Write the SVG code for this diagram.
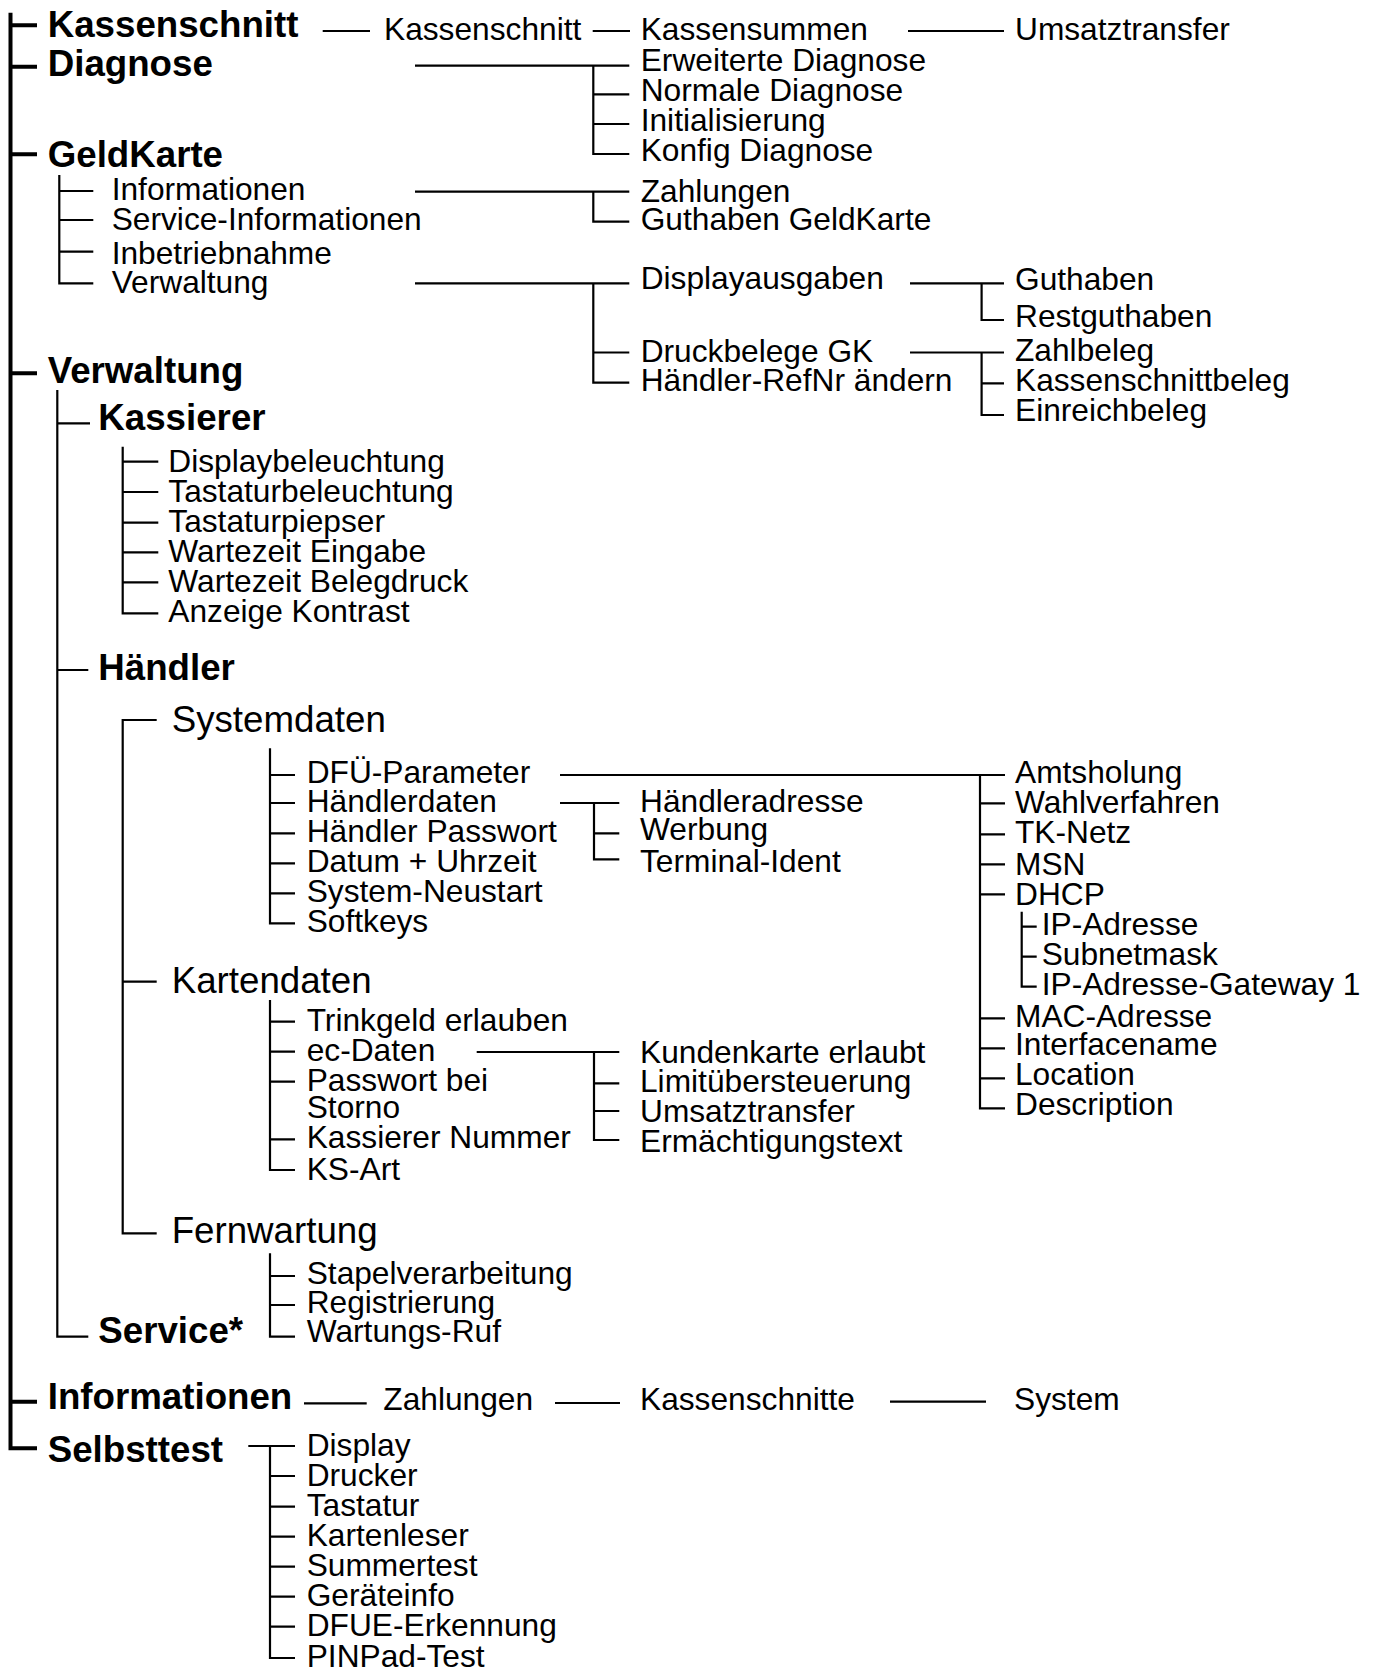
<svg xmlns="http://www.w3.org/2000/svg" width="1374" height="1668" viewBox="0 0 1374 1668">
<style>
text{font-family:"Liberation Sans",Arial,Helvetica,sans-serif;fill:#000}
.b{font-weight:bold;font-size:36.7px}
.r{font-size:31.7px}
.h{font-size:36.7px}
.ln{stroke:#000;stroke-width:2.2;fill:none;stroke-linecap:butt;stroke-linejoin:miter}
.th{stroke:#000;stroke-width:4;fill:none;stroke-linejoin:miter}
</style>
<rect width="1374" height="1668" fill="#fff"/>
<g id="connectors">
<path class="th" d="M10.5 12.7V1448.3H37M10.5 25.3H37M10.5 66.7H37M10.5 154.3H37M10.5 373.3H37M10.5 1401.7H37"/>
<path class="ln" d="M322.7 31H370M592.7 31H630M908 31H1004"/>
<path class="ln" d="M415 65.7H629.3M593.3 65.7V154H629.3M593.3 94.3H629.3M593.3 124H629.3"/>
<path class="ln" d="M59.3 175V283.3H93.3M59.3 191H93.3M59.3 220H93.3M59.3 251.7H93.3"/>
<path class="ln" d="M415 191.7H629.3M593.3 191.7V221.7H629.3"/>
<path class="ln" d="M415 283.3H629.3M593.3 283.3V382.7H629.3M593.3 352.5H629.3"/>
<path class="ln" d="M910 283.3H1004M981.6 283.3V320H1004"/>
<path class="ln" d="M910 352.5H1004M981.6 352.5V415H1004M981.6 383.3H1004"/>
<path class="ln" d="M57.3 390V1336.7H88.3M57.3 423.3H90M57.3 670H88.3"/>
<path class="ln" d="M122.7 446.7V613.3H158.3M122.7 461.7H158.3M122.7 492H158.3M122.7 522.7H158.3M122.7 552.3H158.3M122.7 582.3H158.3"/>
<path class="ln" d="M156.7 720H122.7V1233.3H156.7M122.7 981.7H156.7"/>
<path class="ln" d="M270 748.3V923.3H295M270 775H295M270 803H295M270 833.3H295M270 863.3H295M270 893.3H295"/>
<path class="ln" d="M560 775H1005M980 775V1108.3H1005M980 803.3H1005M980 834.3H1005M980 864.3H1005M980 894.3H1005M980 1018.3H1005M980 1048.3H1005M980 1078.3H1005"/>
<path class="ln" d="M1021.7 911.7V986.7H1036.7M1021.7 926.7H1036.7M1021.7 956.7H1036.7"/>
<path class="ln" d="M560 803H619.3M594 803V859.3H619.3M594 833.3H619.3"/>
<path class="ln" d="M270 1000V1170H295M270 1021.7H295M270 1051.7H295M270 1081.7H295M270 1139.3H295"/>
<path class="ln" d="M476.7 1052H619.3M594 1052V1140H619.3M594 1083.3H619.3M594 1111H619.3"/>
<path class="ln" d="M270 1253.3V1336.7H295M270 1276H295M270 1305H295"/>
<path class="ln" d="M304 1403.3H366.7M555 1403H620M890 1401.7H986"/>
<path class="ln" d="M248.3 1446H295M270 1446V1658H295M270 1476H295M270 1506.7H295M270 1536.7H295M270 1566.7H295M270 1596.7H295M270 1626.7H295"/>
</g>
<g id="n-kassenschnitt"><text class="b" x="47.7" y="37.3">Kassenschnitt</text></g>
<g id="n-kassenschnitt-2"><text class="r" x="384" y="40">Kassenschnitt</text></g>
<g id="n-kassensummen"><text class="r" x="640.7" y="40">Kassensummen</text></g>
<g id="n-umsatztransfer-1"><text class="r" x="1015" y="40">Umsatztransfer</text></g>
<g id="n-diagnose"><text class="b" x="47.7" y="76">Diagnose</text></g>
<g id="n-erw-diagnose"><text class="r" x="640.7" y="71">Erweiterte Diagnose</text></g>
<g id="n-norm-diagnose"><text class="r" x="640.7" y="100.7">Normale Diagnose</text></g>
<g id="n-initialisierung"><text class="r" x="640.7" y="131">Initialisierung</text></g>
<g id="n-konfig-diagnose"><text class="r" x="640.7" y="161">Konfig Diagnose</text></g>
<g id="n-geldkarte"><text class="b" x="47.7" y="166.7">GeldKarte</text></g>
<g id="n-gk-informationen"><text class="r" x="111.7" y="200">Informationen</text></g>
<g id="n-gk-service-info"><text class="r" x="111.7" y="230">Service-Informationen</text></g>
<g id="n-gk-inbetriebnahme"><text class="r" x="111.7" y="264">Inbetriebnahme</text></g>
<g id="n-gk-verwaltung"><text class="r" x="111.7" y="293.3">Verwaltung</text></g>
<g id="n-gk-zahlungen"><text class="r" x="640.7" y="201.7">Zahlungen</text></g>
<g id="n-gk-guthaben-gk"><text class="r" x="640.7" y="230">Guthaben GeldKarte</text></g>
<g id="n-displayausgaben"><text class="r" x="640.7" y="289.3">Displayausgaben</text></g>
<g id="n-druckbelege-gk"><text class="r" x="640.7" y="361.7">Druckbelege GK</text></g>
<g id="n-haendler-refnr"><text class="r" x="640.7" y="390.5">Händler-RefNr ändern</text></g>
<g id="n-guthaben"><text class="r" x="1015" y="290">Guthaben</text></g>
<g id="n-restguthaben"><text class="r" x="1015" y="326.7">Restguthaben</text></g>
<g id="n-zahlbeleg"><text class="r" x="1015" y="360.5">Zahlbeleg</text></g>
<g id="n-kassenschnittbeleg"><text class="r" x="1015" y="390.7">Kassenschnittbeleg</text></g>
<g id="n-einreichbeleg"><text class="r" x="1015" y="420.7">Einreichbeleg</text></g>
<g id="n-verwaltung"><text class="b" x="47.7" y="383.3">Verwaltung</text></g>
<g id="n-kassierer"><text class="b" x="98.3" y="430">Kassierer</text></g>
<g id="n-displaybeleuchtung"><text class="r" x="168.3" y="471.7">Displaybeleuchtung</text></g>
<g id="n-tastaturbeleuchtung"><text class="r" x="168.3" y="501.7">Tastaturbeleuchtung</text></g>
<g id="n-tastaturpiepser"><text class="r" x="168.3" y="531.7">Tastaturpiepser</text></g>
<g id="n-wartezeit-eingabe"><text class="r" x="168.3" y="561.5">Wartezeit Eingabe</text></g>
<g id="n-wartezeit-belegdruck"><text class="r" x="168.3" y="591.7">Wartezeit Belegdruck</text></g>
<g id="n-anzeige-kontrast"><text class="r" x="168.3" y="621.7">Anzeige Kontrast</text></g>
<g id="n-haendler"><text class="b" x="98.3" y="680">Händler</text></g>
<g id="n-systemdaten"><text class="h" x="171.7" y="731.7">Systemdaten</text></g>
<g id="n-dfue-parameter"><text class="r" x="306.7" y="782.7">DFÜ-Parameter</text></g>
<g id="n-haendlerdaten"><text class="r" x="306.7" y="812.3">Händlerdaten</text></g>
<g id="n-haendler-passwort"><text class="r" x="306.7" y="842.3">Händler Passwort</text></g>
<g id="n-datum-uhrzeit"><text class="r" x="306.7" y="872.3">Datum + Uhrzeit</text></g>
<g id="n-system-neustart"><text class="r" x="306.7" y="902.3">System-Neustart</text></g>
<g id="n-softkeys"><text class="r" x="306.7" y="932.3">Softkeys</text></g>
<g id="n-haendleradresse"><text class="r" x="640" y="811.7">Händleradresse</text></g>
<g id="n-werbung"><text class="r" x="640" y="840">Werbung</text></g>
<g id="n-terminal-ident"><text class="r" x="640" y="871.7">Terminal-Ident</text></g>
<g id="n-amtsholung"><text class="r" x="1015" y="783.3">Amtsholung</text></g>
<g id="n-wahlverfahren"><text class="r" x="1015" y="813.3">Wahlverfahren</text></g>
<g id="n-tk-netz"><text class="r" x="1015" y="843.3">TK-Netz</text></g>
<g id="n-msn"><text class="r" x="1015" y="875">MSN</text></g>
<g id="n-dhcp"><text class="r" x="1015" y="905">DHCP</text></g>
<g id="n-ip-adresse"><text class="r" x="1041.7" y="935">IP-Adresse</text></g>
<g id="n-subnetmask"><text class="r" x="1041.7" y="965">Subnetmask</text></g>
<g id="n-ip-gateway"><text class="r" x="1041.7" y="995">IP-Adresse-Gateway 1</text></g>
<g id="n-mac-adresse"><text class="r" x="1015" y="1026.7">MAC-Adresse</text></g>
<g id="n-interfacename"><text class="r" x="1015" y="1055">Interfacename</text></g>
<g id="n-location"><text class="r" x="1015" y="1085">Location</text></g>
<g id="n-description"><text class="r" x="1015" y="1115">Description</text></g>
<g id="n-kartendaten"><text class="h" x="171.7" y="993.3">Kartendaten</text></g>
<g id="n-trinkgeld"><text class="r" x="306.7" y="1030.7">Trinkgeld erlauben</text></g>
<g id="n-ec-daten"><text class="r" x="306.7" y="1060.7">ec-Daten</text></g>
<g id="n-passwort-storno"><text class="r" x="306.7" y="1090.7">Passwort bei</text><text class="r" x="306.7" y="1118.3">Storno</text></g>
<g id="n-kassierer-nummer"><text class="r" x="306.7" y="1148.3">Kassierer Nummer</text></g>
<g id="n-ks-art"><text class="r" x="306.7" y="1180">KS-Art</text></g>
<g id="n-kundenkarte"><text class="r" x="640" y="1062.7">Kundenkarte erlaubt</text></g>
<g id="n-limit"><text class="r" x="640" y="1091.7">Limitübersteuerung</text></g>
<g id="n-umsatztransfer-2"><text class="r" x="640" y="1121.7">Umsatztransfer</text></g>
<g id="n-ermaechtigung"><text class="r" x="640" y="1151.7">Ermächtigungstext</text></g>
<g id="n-fernwartung"><text class="h" x="171.7" y="1243.3">Fernwartung</text></g>
<g id="n-stapelverarbeitung"><text class="r" x="306.7" y="1284">Stapelverarbeitung</text></g>
<g id="n-registrierung"><text class="r" x="306.7" y="1313.3">Registrierung</text></g>
<g id="n-wartungs-ruf"><text class="r" x="306.7" y="1342">Wartungs-Ruf</text></g>
<g id="n-service"><text class="b" x="98.3" y="1343.3">Service*</text></g>
<g id="n-informationen"><text class="b" x="47.7" y="1409.3">Informationen</text></g>
<g id="n-inf-zahlungen"><text class="r" x="383.3" y="1410">Zahlungen</text></g>
<g id="n-inf-kassenschnitte"><text class="r" x="640" y="1410">Kassenschnitte</text></g>
<g id="n-inf-system"><text class="r" x="1014" y="1410">System</text></g>
<g id="n-selbsttest"><text class="b" x="47.7" y="1461.7">Selbsttest</text></g>
<g id="n-display"><text class="r" x="306.7" y="1456">Display</text></g>
<g id="n-drucker"><text class="r" x="306.7" y="1486">Drucker</text></g>
<g id="n-tastatur"><text class="r" x="306.7" y="1516">Tastatur</text></g>
<g id="n-kartenleser"><text class="r" x="306.7" y="1546">Kartenleser</text></g>
<g id="n-summertest"><text class="r" x="306.7" y="1576">Summertest</text></g>
<g id="n-geraeteinfo"><text class="r" x="306.7" y="1606">Geräteinfo</text></g>
<g id="n-dfue-erkennung"><text class="r" x="306.7" y="1636">DFUE-Erkennung</text></g>
<g id="n-pinpad-test"><text class="r" x="306.7" y="1667">PINPad-Test</text></g>
</svg>
